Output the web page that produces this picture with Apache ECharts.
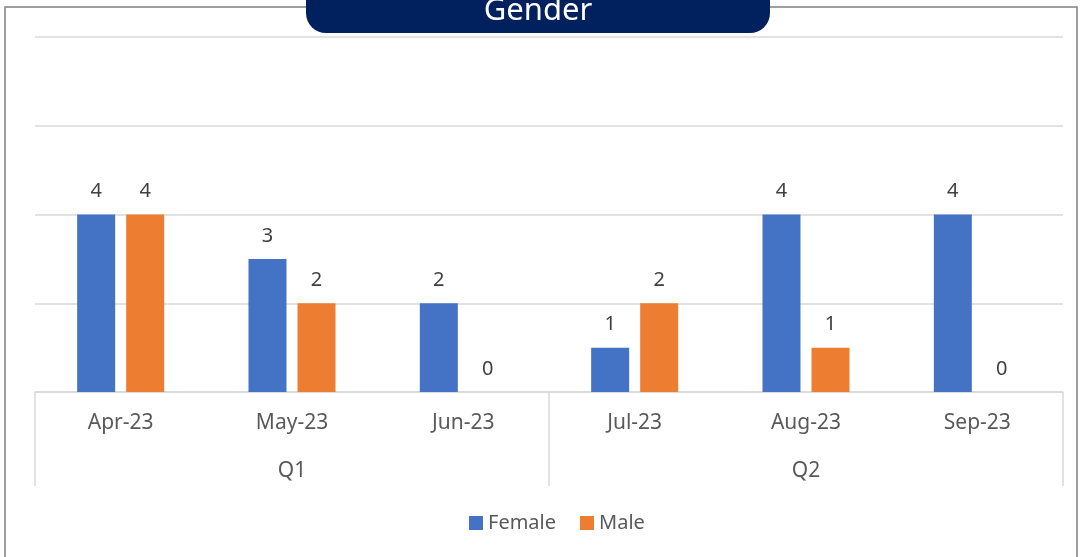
<!DOCTYPE html>
<html>
<head>
<meta charset="utf-8">
<script src="https://cdn.jsdelivr.net/npm/echarts@6/dist/echarts.min.js"></script>
<style>
  html, body { margin: 0; padding: 0; background: #fff; }
  #container { width: 1081px; height: 557px; }
</style>
</head>
<body>
<div id="container"></div>
<script>
var months = ['Apr-23', 'May-23', 'Jun-23', 'Jul-23', 'Aug-23', 'Sep-23'];
var quarters = ['Q1', 'Q2'];
var female = [4, 3, 2, 1, 4, 4];
var male = [4, 2, 0, 2, 1, 0];
var chartTitle = 'Gender';

var fontName = '"Noto Sans", "Open Sans", sans-serif';
var dom = document.getElementById('container');
var myChart = echarts.init(dom);

var labelStyle = {
    show: true,
    position: 'top',
    distance: 13,
    fontSize: 20,
    fontFamily: fontName,
    color: '#404040'
};

var option = {
    animation: false,
    textStyle: { fontFamily: fontName },
    graphic: [
        {   // outer frame
            type: 'rect',
            shape: { x: 5, y: 7, width: 1072, height: 570 },
            style: { fill: 'none', stroke: '#808080', lineWidth: 1.5 },
            z: 0
        },
        {   // title pill
            type: 'rect',
            shape: { x: 306, y: -30, width: 464, height: 63, r: 20 },
            style: { fill: '#00215E' },
            z: 10
        },
        {
            type: 'text',
            x: 538,
            y: 11,
            style: {
                text: chartTitle,
                fill: '#ffffff',
                font: '31px ' + fontName,
                align: 'center',
                verticalAlign: 'middle'
            },
            z: 11
        }
    ],
    legend: {
        data: ['Female', 'Male'],
        top: 508,
        left: 464,
        icon: 'rect',
        itemWidth: 14,
        itemHeight: 14,
        itemGap: 24,
        textStyle: { fontSize: 20, color: '#595959', fontFamily: fontName }
    },
    grid: { left: 35, right: 18, top: 37, bottom: 165 },
    xAxis: [
        {
            type: 'category',
            data: months,
            position: 'bottom',
            axisLine: { show: true, lineStyle: { color: '#d9d9d9', width: 1.5 } },
            axisTick: { show: false },
            axisLabel: { margin: 21, fontSize: 21, color: '#595959', fontFamily: fontName }
        },
        {
            type: 'category',
            data: quarters,
            position: 'bottom',
            axisLine: { show: false },
            axisTick: { show: true, length: 94, interval: 0, lineStyle: { color: '#d9d9d9', width: 1.5 } },
            axisLabel: { margin: 69, fontSize: 21, color: '#595959', fontFamily: fontName }
        }
    ],
    yAxis: {
        type: 'value',
        min: 0,
        max: 8,
        interval: 2,
        axisLabel: { show: false },
        axisLine: { show: false },
        axisTick: { show: false },
        splitLine: { lineStyle: { color: '#d9d9d9', width: 1.5 } }
    },
    series: [
        {
            name: 'Female',
            type: 'bar',
            xAxisIndex: 0,
            data: female,
            barWidth: 38,
            barGap: '29%',
            itemStyle: { color: '#4472C4' },
            label: labelStyle
        },
        {
            name: 'Male',
            type: 'bar',
            xAxisIndex: 0,
            data: male,
            barWidth: 38,
            barGap: '29%',
            itemStyle: { color: '#ED7D31' },
            label: labelStyle
        }
    ]
};

myChart.setOption(option);
</script>
</body>
</html>
